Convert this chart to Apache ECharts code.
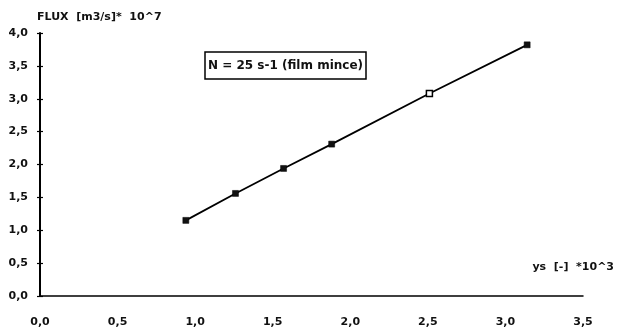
<!DOCTYPE html>
<html>
<head>
<meta charset="utf-8">
<script src="https://cdn.jsdelivr.net/npm/echarts@6/dist/echarts.min.js"></script>
<style>
  html, body { margin: 0; padding: 0; background: #fff; }
  #chart { width: 621px; height: 332px; }
</style>
</head>
<body>
<div id="chart"></div>
<script>
// Measured flux versus ys (both scaled), thin-film regime, N = 25 s-1
const ysValues = [0.94, 1.26, 1.57, 1.88, 2.51, 3.14];
const fluxValues = [1.15, 1.56, 1.94, 2.31, 3.08, 3.82];
const hollowIndex = 4; // this run was plotted with an open marker

const yTitle = 'FLUX  [m3/s]*  10^7';
const xTitle = 'ys  [-]  *10^3';
const noteText = 'N = 25 s-1 (film mince)';

const FONT = '"DejaVu Sans", Arial, sans-serif';
const comma = v => v.toFixed(1).replace('.', ',');

const points = ysValues.map((x, i) => ({
  value: [x, fluxValues[i]],
  itemStyle: i === hollowIndex
    ? { color: '#fff', borderColor: '#000', borderWidth: 1.5 }
    : { color: '#111', borderColor: '#000', borderWidth: 0.5 }
}));

const yCommon = {
  type: 'value', min: 0, max: 4, interval: 0.5, position: 'left',
  splitLine: { show: false }
};

const chart = echarts.init(document.getElementById('chart'), null, { renderer: 'canvas' });
chart.setOption({
  animation: false,
  backgroundColor: '#fff',
  grid: { left: 40, right: 38, top: 33, bottom: 36 },
  title: {
    text: noteText,
    left: 205, top: 52,
    borderColor: '#000', borderWidth: 1.5,
    padding: [8, 3, 7, 3],
    textStyle: { fontFamily: FONT, fontSize: 12, fontWeight: 'bold', color: '#111' }
  },
  xAxis: {
    type: 'value', min: 0, max: 3.5, interval: 0.5,
    name: xTitle,
    nameLocation: 'end',
    nameGap: 31,
    nameTextStyle: {
      fontFamily: FONT, fontSize: 11, fontWeight: 'bold', color: '#111',
      align: 'right', verticalAlign: 'bottom', padding: [0, 0, 23, 0]
    },
    axisLine: { lineStyle: { color: '#000', width: 1.5 } },
    axisTick: { show: false },
    splitLine: { show: false },
    axisLabel: {
      margin: 21, formatter: comma,
      fontFamily: FONT, fontSize: 11, fontWeight: 'bold', color: '#111'
    }
  },
  yAxis: [
    Object.assign({}, yCommon, {
      name: yTitle,
      nameLocation: 'end',
      nameGap: 10,
      nameTextStyle: {
        fontFamily: FONT, fontSize: 11, fontWeight: 'bold', color: '#111',
        align: 'left', padding: [0, 0, 0, -3]
      },
      axisLine: { lineStyle: { color: '#000', width: 2 } },
      axisTick: { inside: false, length: 3, lineStyle: { color: '#000', width: 1.2 } },
      axisLabel: {
        margin: 12, formatter: comma,
        fontFamily: FONT, fontSize: 11, fontWeight: 'bold', color: '#111'
      }
    }),
    Object.assign({}, yCommon, {
      axisLine: { show: false },
      axisTick: { inside: true, length: 3, lineStyle: { color: '#000', width: 1.2 } },
      axisLabel: { show: false }
    })
  ],
  series: [{
    type: 'line',
    data: points,
    symbol: 'rect',
    symbolSize: 6,
    lineStyle: { color: '#000', width: 1.8 },
    z: 3
  }]
});
</script>
</body>
</html>
